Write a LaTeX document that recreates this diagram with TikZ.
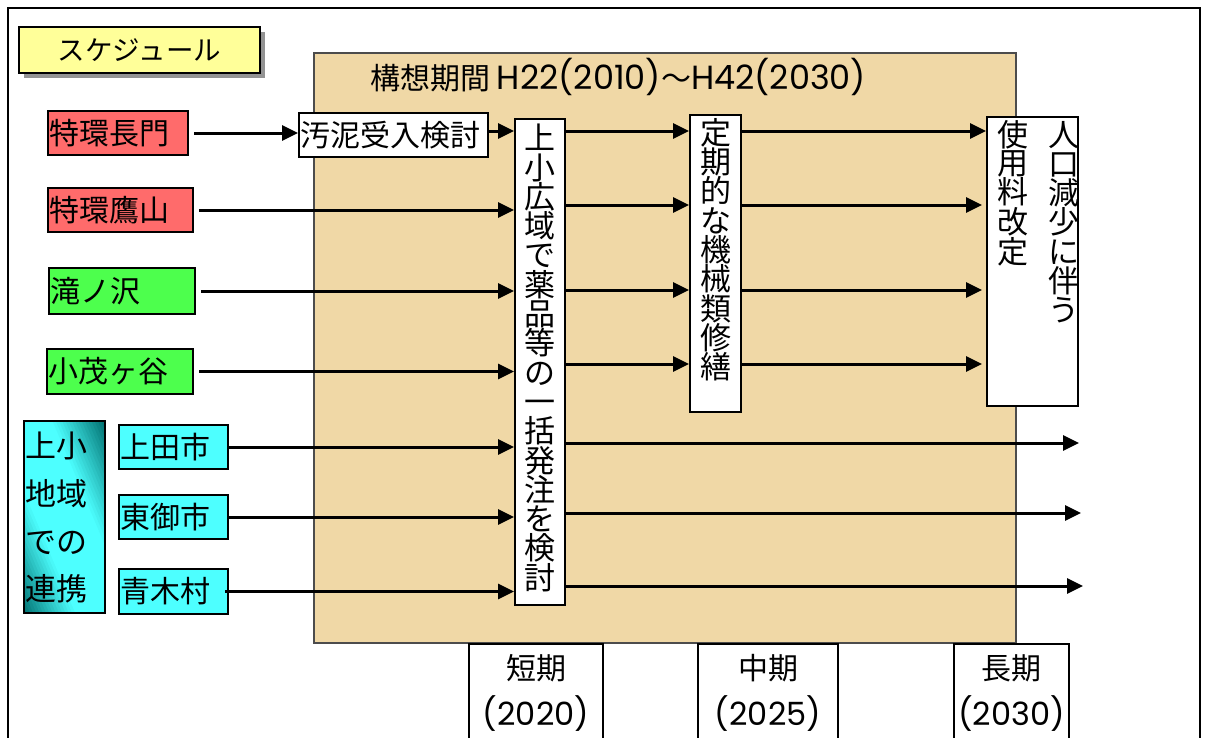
\documentclass[tikz,border=0pt]{standalone}
\usepackage{fontspec}
\setmainfont{Noto Sans CJK JP}
\newfontfamily\latinfont{Poppins}
\usetikzlibrary{arrows.meta,calc,shadows}
\definecolor{ybox}{HTML}{FFFF99}
\definecolor{rbox}{HTML}{FF6B6B}
\definecolor{gbox}{HTML}{4DFF4D}
\definecolor{cbox}{HTML}{4DFFFF}
\definecolor{tealdk}{HTML}{007070}
\definecolor{beige}{HTML}{F0D8A6}
\newcommand\myfs[2]{\fontsize{#1pt}{#2pt}\selectfont}
\newcommand\lt[1]{{\latinfont #1}}
\begin{document}
\begin{tikzpicture}[x=1pt,y=-1pt,
  hb/.style={draw=black, line width=2pt, inner xsep=1.5pt, inner ysep=0pt, anchor=north west, align=left, font=\myfs{30}{32}},
  wb/.style={draw=black, line width=2pt, fill=white, anchor=north west, inner sep=0pt},
  vt/.style={anchor=north, align=center, inner sep=0pt, font=\myfs{31}{29.3}},
  arr/.style={line width=3pt, -{Triangle[length=16pt,width=15pt]}},
  ln/.style={line width=3pt}]
\useasboundingbox (0,0) rectangle (1210,737);
\clip (0,0) rectangle (1210,737);
% outer frame
\draw[line width=2pt] (8,760) -- (8,8) -- (1200,8) -- (1200,760);
% title
\node[draw=black, line width=2pt, fill=ybox, anchor=north west, minimum width=241pt, minimum height=46pt, inner sep=0pt, font=\myfs{27.5}{30},
  drop shadow={shadow xshift=5pt, shadow yshift=-5pt, fill=gray!85, opacity=1}] (title) at (18,26) {スケジュール};
% beige area
\node[draw=black!70, line width=1.5pt, fill=beige, anchor=north west, minimum width=702pt, minimum height=590pt, inner sep=0pt] (bg) at (313,52) {};
\node[anchor=west, inner sep=0pt, font=\myfs{30}{32}] (period) at (370,77) {構想期間 \lt{\myfs{33.5}{34}H22(2010)}～\lt{\myfs{33.5}{34}H42(2030)}};
% left boxes
\node[hb, fill=rbox, minimum width=140pt, minimum height=44pt, text width=137pt] (n1) at (47,110) {特環長門};
\node[hb, fill=rbox, minimum width=145pt, minimum height=44pt, text width=142pt] (n2) at (47,187) {特環鷹山};
\node[hb, fill=gbox, minimum width=146pt, minimum height=46pt, text width=143pt] (n3) at (48,267) {滝ノ沢};
\node[hb, fill=gbox, minimum width=146pt, minimum height=45pt, text width=143pt] (n4) at (46,348) {小茂ヶ谷};
% gradient fill of the regional box (bands parallel to its top-left/bottom-right diagonal)
\begin{scope}
\clip (23,420) rectangle (104,612);
\foreach \i in {0,...,49} {
  \pgfmathsetmacro\sa{-1+\i*0.04}
  \pgfmathsetmacro\sb{\sa+0.05}
  \pgfmathsetmacro\sm{abs(\sa+0.02)}
  \pgfmathsetmacro\ff{max(0,min(100,(\sm-0.35)/0.65*100))}
  \fill[tealdk!\ff!cbox] ({23+81*\sa},420) -- ({23+81*\sb},420) -- ({23+81*(\sb+1)},612) -- ({23+81*(\sa+1)},612) -- cycle;
}
\end{scope}
\node[draw=black, line width=2pt, anchor=north west, minimum width=81pt, minimum height=192pt, inner sep=0pt] (joshou) at (23,420) {};
\node[anchor=north west, align=left, inner sep=0pt, font=\myfs{31}{47.7}] (joshoutxt) at ($(joshou.north west)+(2,12)$) {上小\\地域\\での\\連携};
\node[hb, fill=cbox, minimum width=109pt, minimum height=44pt, text width=106pt] (ueda) at (118,424) {上田市};
\node[hb, fill=cbox, minimum width=109pt, minimum height=44pt, text width=106pt] (tomi) at (118,494) {東御市};
\node[hb, fill=cbox, minimum width=109pt, minimum height=45pt, text width=106pt] (aoki) at (118,568) {青木村};
% middle boxes
\node[hb, fill=white, minimum width=189pt, minimum height=44pt, text width=186pt] (osei) at (298,112) {汚泥受入検討};
\node[wb, minimum width=50pt, minimum height=486pt] (gk) at (514,118) {};
\node[vt] (gktxt) at ($(gk.north)+(0,6)$) {上\\小\\広\\域\\で\\薬\\品\\等\\の\\一\\括\\発\\注\\を\\検\\討};
\node[wb, minimum width=51pt, minimum height=297pt] (tk) at (689,114) {};
\node[vt] (tktxt) at ($(tk.north)+(0,4)$) {定\\期\\的\\な\\機\\械\\類\\修\\繕};
\node[wb, minimum width=91pt, minimum height=289pt] (sr) at (986,116) {};
\node[vt, font=\myfs{31}{29.2}] (srtxt1) at ($(sr.north)+(31,5)$) {人\\口\\減\\少\\に\\伴\\う};
\node[vt, font=\myfs{31}{28}] (srtxt2) at ($(sr.north)+(-20,4)$) {使\\用\\料\\改\\定};
% bottom boxes
\node[wb, minimum width=134pt, minimum height=120pt] (short) at (468,643) {};
\node[wb, minimum width=140pt, minimum height=120pt] (mid) at (697,643) {};
\node[wb, minimum width=115pt, minimum height=120pt] (long) at (953,643) {};
\node[anchor=north, align=center, inner sep=0pt, font=\myfs{30}{46}] (shorttxt) at ($(short.north)+(0,11)$) {短期\\\lt{\myfs{32}{46}(2020)}};
\node[anchor=north, align=center, inner sep=0pt, font=\myfs{30}{46}] (midtxt) at ($(mid.north)+(0,11)$) {中期\\\lt{\myfs{32}{46}(2025)}};
\node[anchor=north, align=center, inner sep=0pt, font=\myfs{30}{46}] (longtxt) at ($(long.north)+(0,11)$) {長期\\\lt{\myfs{32}{46}(2030)}};
% helper rows
\coordinate (ra) at (0,131);
\coordinate (rb) at (0,205);
\coordinate (rc) at (0,290);
\coordinate (rd) at (0,364);
\coordinate (e1) at (1079,443);
\coordinate (e2) at (1081,513);
\coordinate (e3) at (1083,586);
% arrows left
\draw[arr, shorten <=5pt] (n1.east) -- (n1.east -| osei.west);
\draw[arr] (osei.east |- ra) -- (gk.west |- ra);
\draw[arr, shorten <=5pt] (n2.east) -- (n2.east -| gk.west);
\draw[arr, shorten <=5pt] (n3.east) -- (n3.east -| gk.west);
\draw[arr, shorten <=5pt] (n4.east) -- (n4.east -| gk.west);
\draw[arr] (ueda.east) -- (ueda.east -| gk.west);
\draw[arr] (tomi.east) -- (tomi.east -| gk.west);
\draw[arr, shorten <=-4pt] (aoki.east) -- (aoki.east -| gk.west);
% arrows from gk
\draw[arr] (gk.east |- ra) -- (tk.west |- ra);
\draw[arr] (gk.east |- rb) -- (tk.west |- rb);
\draw[arr] (gk.east |- rc) -- (tk.west |- rc);
\draw[arr] (gk.east |- rd) -- (tk.west |- rd);
\draw[arr] (gk.east |- e1) -- (e1);
\draw[arr] (gk.east |- e2) -- (e2);
\draw[arr] (gk.east |- e3) -- (e3);
% arrows from tk
\draw[arr] (tk.east |- ra) -- (sr.west |- ra);
\draw[arr, shorten >=4pt] (tk.east |- rb) -- (sr.west |- rb);
\draw[arr, shorten >=4pt] (tk.east |- rc) -- (sr.west |- rc);
\draw[arr, shorten >=4pt] (tk.east |- rd) -- (sr.west |- rd);
\end{tikzpicture}
\end{document}
